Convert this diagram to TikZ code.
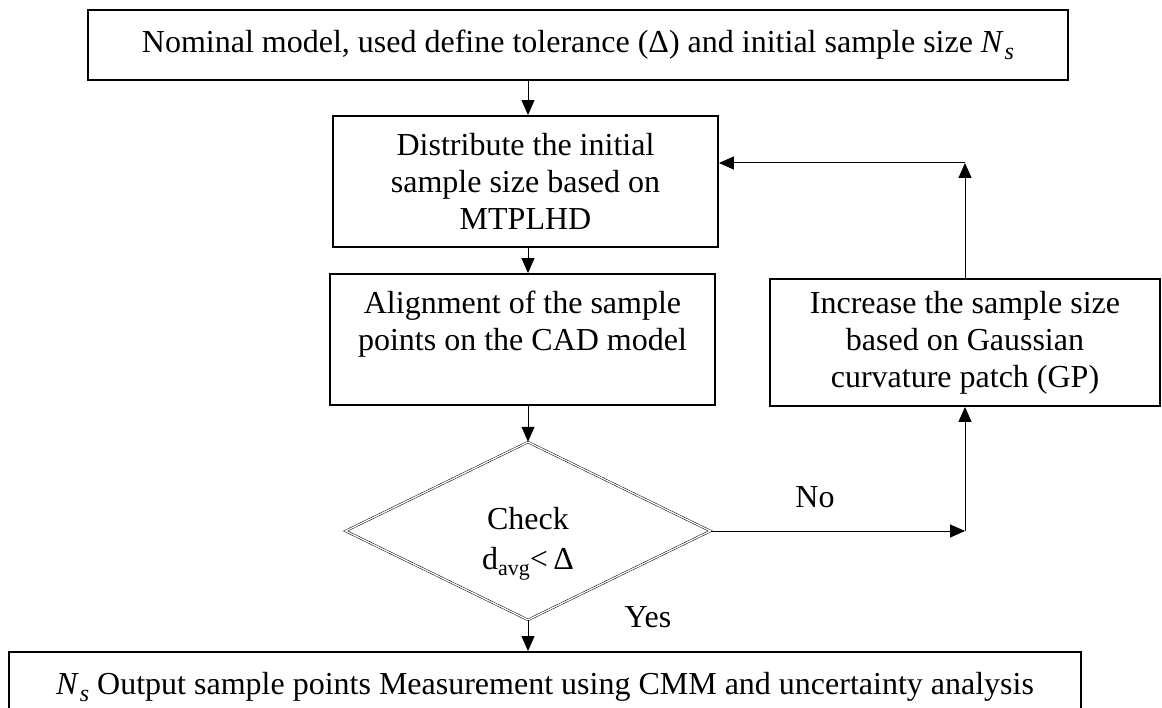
\documentclass[tikz,border=0pt]{standalone}
\usepackage{fontspec}
\setmainfont{Liberation Serif}
\usetikzlibrary{shapes.geometric,arrows.meta}
% italic N with subscript s
\newcommand{\Nsub}{\textit{N}\kern1pt\raisebox{-0.22em}{\fontsize{24}{24}\selectfont\textit{s}}}
% d with subscript avg
\newcommand{\davg}{d\raisebox{-0.2em}{\fontsize{22}{22}\selectfont avg}<\,Δ}
\begin{document}
\begin{tikzpicture}[x=1pt,y=-1pt,
  box/.style={draw, line width=1.8pt, align=center, inner sep=0pt,
    font=\fontsize{32}{37}\selectfont},
  decision/.style={diamond, draw, double, double distance=1.3pt, line width=0.5pt,
    aspect=2, inner sep=0pt, align=center, font=\fontsize{32}{40}\selectfont},
  lbl/.style={font=\fontsize{32}{37}\selectfont, inner sep=0pt},
  arr/.style={line width=1pt, -{Triangle[length=15pt,width=13pt]}},
  ]
\useasboundingbox (0,0) rectangle (1162,708);

\node[box, minimum width=980pt, minimum height=70pt] (top) at (578,45)
  {Nominal model, used define tolerance (Δ) and initial sample size \Nsub};
\node[box, minimum width=385pt, minimum height=131pt] (b2) at (525.5,181.5)
  {Distribute the initial\\sample size based on\\MTPLHD};
\node[box, minimum width=385pt, minimum height=131pt] (b3) at (522.5,339.5)
  {Alignment of the sample\\points on the CAD model\\~};
\node[box, minimum width=390pt, minimum height=127pt] (b4) at (965,342.5)
  {Increase the sample size\\based on Gaussian\\curvature patch (GP)};
\node[decision, minimum width=365pt, minimum height=178pt] (dia) at (528,531)
  {\rule{0pt}{48pt}Check\\\davg};
\node[box, minimum width=1072pt, minimum height=70pt] (bot) at (545,687)
  {\Nsub{} Output sample points Measurement using CMM and uncertainty analysis};

\node[lbl] (no) at (815,497) {No};
\node[lbl] (yes) at (648,617) {Yes};

% main flow
\draw[arr] (top.south -| dia.north) -- (b2.north -| dia.north);
\draw[arr] (b2.south -| dia.north) -- (b3.north -| dia.north);
\draw[arr] (b3.south -| dia.north) -- (dia.north);
\draw[arr] (dia.south) -- (bot.north -| dia.south);

% "No" branch and loop back
\coordinate (c1) at (b4.south |- dia.east);
\draw[arr] (dia.east) -- (c1);
\draw[arr] (c1) -- (b4.south);
\coordinate (c2) at (b4.north |- 0,163);
\draw[arr] (b4.north) -- (c2);
\draw[arr] (c2) -- (c2 -| b2.east);
\end{tikzpicture}
\end{document}
